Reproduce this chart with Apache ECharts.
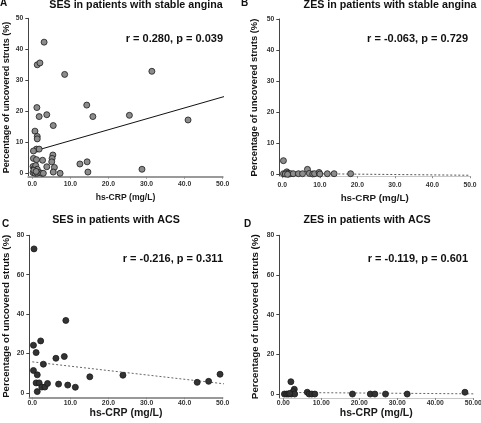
<!DOCTYPE html>
<html>
<head>
<meta charset="utf-8">
<script src="https://cdn.jsdelivr.net/npm/echarts@6/dist/echarts.min.js"></script>
<style>html,body{margin:0;padding:0;background:#fff;}#c{width:481px;height:423px;}</style>
</head>
<body>
<div id="c"></div>
<script>
// ---- data ----
const xTicks = [0, 10, 20, 30, 40, 50];
const yTicksStable = [0, 10, 20, 30, 40, 50];
const yTicksACS = [0, 20, 40, 60, 80];

const panelTitles = ['SES in patients with stable angina', 'ZES in patients with stable angina', 'SES in patients with ACS', 'ZES in patients with ACS'];
const panelLetters = ['A', 'B', 'C', 'D'];
const statTexts = ['r = 0.280, p = 0.039', 'r = -0.063, p = 0.729', 'r = -0.216, p = 0.311', 'r = -0.119, p = 0.601'];
const xName = 'hs-CRP (mg/L)';
const yName = 'Percentage of uncovered struts (%)';

const sesStableX = [3.1, 1.3, 2.0, 8.5, 31.4, 1.2, 14.3, 1.8, 3.8, 15.9, 25.5, 40.9, 5.5, 0.7, 1.3, 1.3, 1.1, 1.8, 0.3, 0.3, 1.1, 2.7, 5.4, 5.2, 5.1, 5.8, 3.8, 5.5, 7.3, 12.5, 14.4, 14.6, 28.8, 0.2, 0.5, 0.9, 1.3, 0.2, 0.7, 1.3, 1.9, 2.5, 2.9, 0.4, 1.0];
const sesStableY = [42.3, 35.0, 35.6, 31.9, 32.9, 21.2, 22.0, 18.3, 18.9, 18.3, 18.7, 17.2, 15.4, 13.6, 11.9, 11.1, 7.8, 7.8, 7.2, 4.8, 4.4, 4.2, 5.9, 4.8, 3.7, 1.9, 2.1, 0.4, 0.0, 3.0, 3.7, 0.4, 1.3, 2.2, 1.6, 2.5, 1.3, 0.2, 0.0, 0.0, 0.2, 0.0, 0.0, 1.0, 0.6];
const sesStableFitX = [0, 50.8];
const sesStableFitY = [7.0, 24.9];

const zesStableX = [0.3, 0.3, 1.0, 1.2, 1.5, 1.7, 2.2, 2.9, 4.3, 5.4, 6.7, 7.2, 8.1, 8.6, 9.8, 10.0, 12.0, 13.8, 18.2, 0.8, 1.4];
const zesStableY = [4.4, 0.2, 0.3, 0.8, 0.4, 0.1, 0.2, 0.2, 0.2, 0.2, 1.6, 0.3, 0.1, 0.2, 0.6, 0.1, 0.2, 0.2, 0.2, 0.1, 0.0];
const zesStableFitX = [0, 50];
const zesStableFitY = [0.3, -0.3];

const sesAcsX = [0.45, 0.3, 2.2, 1.0, 8.8, 6.2, 8.4, 2.9, 0.3, 1.3, 1.0, 1.8, 1.3, 2.5, 3.3, 4.0, 6.9, 9.3, 11.3, 15.1, 23.8, 43.3, 46.3, 49.3];
const sesAcsY = [73.1, 24.2, 26.4, 20.5, 36.8, 17.6, 18.5, 14.6, 11.4, 9.2, 5.1, 5.1, 0.7, 3.0, 3.0, 4.8, 4.5, 4.0, 2.9, 8.2, 9.0, 5.4, 5.9, 9.5];
const sesAcsFitX = [0, 51];
const sesAcsFitY = [15.8, 4.5];

const zesAcsX = [2.0, 2.9, 2.6, 0.3, 0.9, 1.4, 2.1, 3.0, 6.3, 6.8, 7.5, 8.3, 18.2, 22.9, 24.1, 26.9, 32.6, 47.8, 1.7];
const zesAcsY = [6.2, 2.4, 1.2, 0.0, 0.0, 0.0, 0.0, 0.0, 0.9, 0.0, 0.0, 0.0, 0.0, 0.0, 0.0, 0.0, 0.0, 0.9, 0.3];
const zesAcsFitX = [0, 50];
const zesAcsFitY = [0.8, 0.1];

// ---- layout / styles ----
const FONT = 'Liberation Sans, Arial, sans-serif';
const panels = [
  {xs: sesStableX, ys: sesStableY, fx: sesStableFitX, fy: sesStableFitY, yTicks: yTicksStable,
   grid: {left: 28.3, top: 18.3, width: 194.4, height: 158.4}, xMin: -1.05, yMin: -1.1, yMax: 50,
   fill: '#8c8c8c', fitStyle: {type: 'solid', color: '#111', width: 1}, xDec: 1,
   xAxisColor: '#9a9a9a', xAxisWidth: 2, xNameSize: 8.6, xNameGap: 16, xLabMargin: 4, yNameSize: 9, yNameGap: 17,
   letter: [0, -2], title: [136, 0], stat: [223, 38.5]},
  {xs: zesStableX, ys: zesStableY, fx: zesStableFitX, fy: zesStableFitY, yTicks: yTicksStable,
   grid: {left: 279.3, top: 19, width: 190.7, height: 157.2}, xMin: -0.8, yMin: -0.6, yMax: 50,
   fill: '#8c8c8c', fitStyle: {type: [2, 2], color: '#555', width: 1}, xDec: 1,
   xAxisColor: '#c8c8c8', xAxisWidth: 1, xNameSize: 9.8, xNameGap: 17, xLabMargin: 5, yNameSize: 9.4, yNameGap: 20,
   letter: [241, -2], title: [390, 0], stat: [468, 38.5]},
  {xs: sesAcsX, ys: sesAcsY, fx: sesAcsFitX, fy: sesAcsFitY, yTicks: yTicksACS,
   grid: {left: 29.3, top: 235.3, width: 193.4, height: 162}, xMin: -0.79, yMin: -2.2, yMax: 80,
   fill: '#333', fitStyle: {type: [2, 2], color: '#666', width: 1}, xDec: 1,
   xAxisColor: '#777', xAxisWidth: 1.5, xNameSize: 10.5, xNameGap: 7, xLabMargin: 2.5, yNameSize: 9.7, yNameGap: 18,
   letter: [2, 219], title: [116, 215], stat: [223, 259]},
  {xs: zesAcsX, ys: zesAcsY, fx: zesAcsFitX, fy: zesAcsFitY, yTicks: yTicksACS,
   grid: {left: 279.3, top: 235.3, width: 194, height: 162.7}, xMin: -1.05, yMin: -2, yMax: 80,
   fill: '#333', fitStyle: {type: [2, 2], color: '#666', width: 1}, xDec: 2,
   xAxisColor: '#c8c8c8', xAxisWidth: 1, xNameSize: 10.5, xNameGap: 6.5, xLabMargin: 2, yNameSize: 9.8, yNameGap: 19,
   letter: [244, 219], title: [367, 215], stat: [468, 259]}
];

const grids = [], xAxes = [], yAxes = [], series = [], titles = [], graphics = [];
panels.forEach((p, i) => {
  grids.push(Object.assign({outerBoundsMode: 'none', containLabel: false}, p.grid));
  xAxes.push({
    type: 'value', gridIndex: i, min: p.xMin, max: 50,
    name: xName, nameLocation: 'middle', nameGap: p.xNameGap,
    nameTextStyle: {fontFamily: FONT, fontSize: p.xNameSize, fontWeight: 'bold', color: '#1a1a1a'},
    axisLine: {show: true, onZero: false, lineStyle: {color: p.xAxisColor, width: p.xAxisWidth}},
    axisTick: {show: true, length: 2, customValues: xTicks, lineStyle: {color: '#888'}},
    axisLabel: {customValues: xTicks, margin: p.xLabMargin, fontFamily: FONT, fontSize: 6.8, fontWeight: 'bold', color: '#333',
      formatter: v => v.toFixed(p.xDec)},
    splitLine: {show: false}
  });
  yAxes.push({
    type: 'value', gridIndex: i, min: p.yMin, max: p.yMax,
    name: yName, nameLocation: 'middle', nameGap: p.yNameGap, nameRotate: 90,
    nameTextStyle: {fontFamily: FONT, fontSize: p.yNameSize, fontWeight: 'bold', color: '#111'},
    axisLine: {show: true, onZero: false, lineStyle: {color: '#444', width: 1}},
    axisTick: {show: true, length: 3, customValues: p.yTicks, lineStyle: {color: '#444'}},
    axisLabel: {customValues: p.yTicks, margin: 5, fontFamily: FONT, fontSize: 6.8, fontWeight: 'bold', color: '#333'},
    splitLine: {show: false}
  });
  series.push({
    type: 'line', xAxisIndex: i, yAxisIndex: i, symbol: 'none', silent: true, clip: false,
    data: p.fx.map((x, k) => [x, p.fy[k]]),
    lineStyle: p.fitStyle, z: 1
  });
  series.push({
    type: 'scatter', xAxisIndex: i, yAxisIndex: i, symbolSize: 6, clip: false,
    data: p.xs.map((x, k) => [x, p.ys[k]]),
    itemStyle: {color: p.fill, borderColor: '#1a1a1a', borderWidth: 0.8, opacity: 1}, z: 3
  });
  titles.push({
    text: panelTitles[i], left: p.title[0], top: p.title[1], textAlign: 'center', padding: 0,
    textStyle: {fontFamily: FONT, fontSize: 10.7, fontWeight: 'bold', color: '#111'}
  });
  graphics.push({
    type: 'text', left: p.letter[0], top: p.letter[1],
    style: {text: panelLetters[i], font: 'bold 10px ' + FONT, fill: '#111'}
  });
  graphics.push({
    type: 'text', x: p.stat[0], y: p.stat[1],
    style: {text: statTexts[i], font: 'bold 11px ' + FONT, fill: '#111', align: 'right', verticalAlign: 'middle'}
  });
});

const chart = echarts.init(document.getElementById('c'), null, {renderer: 'canvas'});
chart.setOption({
  backgroundColor: '#fff',
  animation: false,
  title: titles,
  grid: grids,
  xAxis: xAxes,
  yAxis: yAxes,
  series: series,
  graphic: graphics
});
</script>
</body>
</html>
